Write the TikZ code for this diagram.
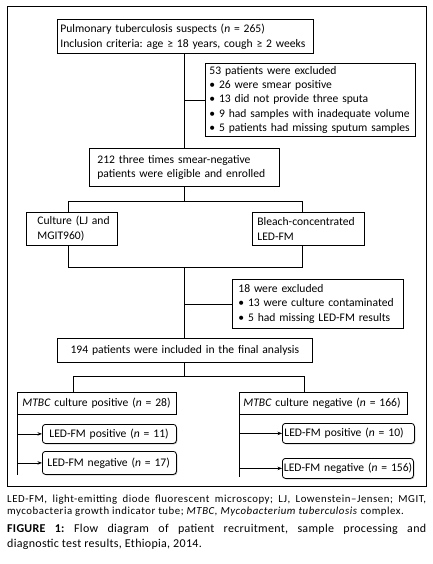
\documentclass[tikz,border=0pt]{standalone}
\usepackage{fontspec}
\setmainfont{Carlito}
\newfontfamily\capfont[LetterSpace=5]{Carlito}
\newfontfamily\figfont[LetterSpace=2.5]{Carlito}
\newcommand{\lne}[1]{\mbox{#1}}
\usetikzlibrary{arrows.meta,shadows}
\tikzset{
  box/.style={draw, line width=0.8pt, anchor=north west, align=left, inner xsep=3pt, inner ysep=0pt, font=\fontsize{11.6}{14.5}\selectfont\frenchspacing},
  rbox/.style={box, rounded corners=3pt, drop shadow={shadow xshift=0.9pt, shadow yshift=-0.9pt, fill=gray!55, opacity=1}, fill=white},
  conn/.style={line width=0.7pt},
  arr/.style={line width=0.7pt, -{Stealth[length=4.5pt,width=3.5pt]}},
}
\begin{document}
\begin{tikzpicture}[x=1pt,y=-1pt]
\useasboundingbox (0,0) rectangle (432,564);
\draw[line width=0.8pt] (7,6) rectangle (426,486);

\node[box, text width=250, minimum height=34, font=\fontsize{11.6}{15}\selectfont\frenchspacing] (b1) at (57,19)
  {\lne{Pulmonary tuberculosis suspects (\textit{n} = 265)}\\\lne{Inclusion criteria: age ≥ 18 years, cough ≥ 2 weeks}};
\node[box, text width=202, inner xsep=4pt, minimum height=73, font=\fontsize{11.6}{14.2}\selectfont\frenchspacing] (b2) at (205,63)
  {\lne{53 patients were excluded}\\\lne{• 26 were smear positive}\\\lne{• 13 did not provide three sputa}\\\lne{• 9 had samples with inadequate volume}\\\lne{• 5 patients had missing sputum samples}};
\node[box, text width=174, inner xsep=8pt, minimum height=38, font=\fontsize{11.6}{13.5}\selectfont\frenchspacing] (b3) at (89,148)
  {\lne{212 three times smear-negative}\\\lne{patients were eligible and enrolled}};
\node[box, text width=69, inner xsep=11pt, minimum height=33, font=\fontsize{11.6}{15.3}\selectfont\frenchspacing] (b4) at (26,212)
  {\lne{Culture (LJ and}\\\lne{MGIT960)}};
\node[box, text width=102, inner xsep=5pt, minimum height=33, font=\fontsize{11.6}{15.3}\selectfont\frenchspacing] (b5) at (252,212)
  {\lne{Bleach-concentrated}\\\lne{LED-FM}};
\node[box, text width=159, inner xsep=6pt, minimum height=49] (b6) at (232,279)
  {\lne{18 were excluded}\\\lne{• 13 were culture contaminated}\\\lne{• 5 had missing LED-FM results}};
\node[box, text width=249, align=center, minimum height=24] (b7) at (57,338)
  {\lne{194 patients were included in the final analysis}};
\node[box, text width=149, inner xsep=5pt, minimum height=22] (b8) at (17,392)
  {\lne{\textit{MTBC} culture positive (\textit{n} = 28)}};
\node[box, text width=160, inner xsep=4pt, minimum height=22] (b9) at (239,392)
  {\lne{\textit{MTBC} culture negative (\textit{n} = 166)}};
\node[rbox, text width=120, inner xsep=7pt, minimum height=19] (b10) at (42,424)
  {\lne{LED-FM positive (\textit{n} = 11)}};
\node[rbox, text width=124, inner xsep=5pt, minimum height=23] (b11) at (42,451)
  {\lne{LED-FM negative (\textit{n} = 17)}};
\node[rbox, text width=128, inner xsep=2pt, minimum height=20] (b12) at (282,423)
  {\lne{LED-FM positive (\textit{n} = 10)}};
\node[rbox, text width=128, inner xsep=1.5pt, minimum height=20] (b13) at (282,458)
  {\lne{LED-FM negative (\textit{n} = 156)}};

% junction points
\coordinate (m1) at (184,201);
\coordinate (j1L) at (68,201);
\coordinate (j1R) at (302,201);
\coordinate (j2L) at (68,267);
\coordinate (j2R) at (302,267);
\coordinate (m2) at (184,267);
\coordinate (m3) at (184,376);
\coordinate (j3L) at (73,376);
\coordinate (j3R) at (304,376);
\coordinate (lend) at (17,475);
\coordinate (rend) at (239,477);

\draw[conn] (m1 |- b1.south) -- (m1 |- b3.north);
\draw[conn] (m1 |- b2.west) -- (b2.west);
\draw[conn] (m1 |- b3.south) -- (m1);
\draw[conn] (j1L |- b4.north) -- (j1L) -- (j1R) -- (j1R |- b5.north);
\draw[conn] (j2L |- b4.south) -- (j2L) -- (j2R) -- (j2R |- b5.south);
\draw[conn] (m2) -- (m2 |- b7.north);
\draw[conn] (m2 |- b6.west) -- (b6.west);
\draw[conn] (m3 |- b7.south) -- (m3);
\draw[conn] (j3L |- b8.north) -- (j3L) -- (j3R) -- (j3R |- b9.north);

\draw[conn] (b8.south west) -- (lend);
\draw[arr] (lend |- b10.west) -- (b10.west);
\draw[arr] (lend |- b11.west) -- (b11.west);
\draw[conn] (b9.south west) -- (rend);
\draw[arr] (rend |- b12.west) -- (b12.west);
\draw[arr] (rend |- b13.west) -- (b13.west);

\node[anchor=north west, text width=419, align=justify, inner sep=0pt, font=\capfont\fontsize{10.8}{12}\selectfont\frenchspacing] (cap1) at (7,495)
  {LED-FM, light-emitting diode fluorescent microscopy; LJ, Lowenstein–Jensen; MGIT,\linebreak mycobacteria growth indicator tube; \textit{MTBC, Mycobacterium tuberculosis} complex.};
\node[anchor=north west, text width=419, align=justify, inner sep=0pt, font=\figfont\fontsize{12}{15}\selectfont\frenchspacing] (cap2) at (7,524)
  {\textbf{FIGURE 1:} Flow diagram of patient recruitment, sample processing and\linebreak diagnostic test results, Ethiopia, 2014.};
\end{tikzpicture}
\end{document}
